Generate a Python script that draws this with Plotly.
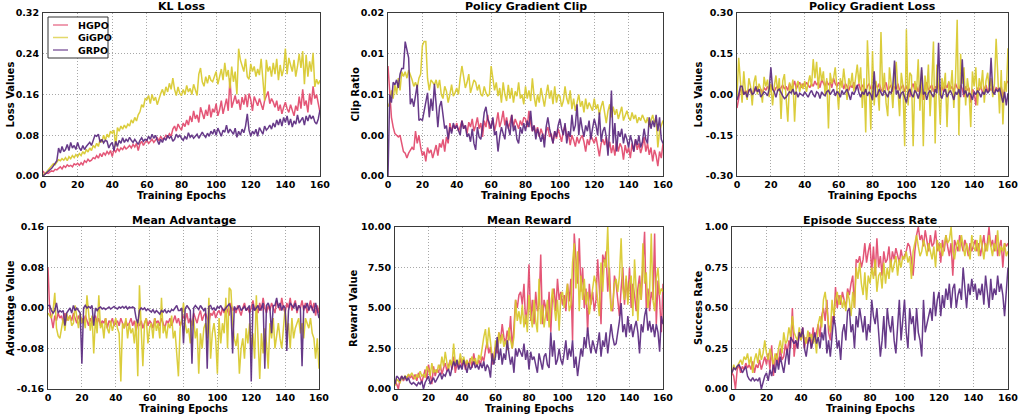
import numpy as np
import plotly.graph_objects as go

W, H = 1020, 416
epochs_max = 160
x_ticks = [0, 20, 40, 60, 80, 100, 120, 140, 160]
methods = ["HGPO", "GiGPO", "GRPO"]
colors = {"HGPO": "#e2486c", "GiGPO": "#d8c92c", "GRPO": "#5b2a80"}

# ---------------- KL Loss ----------------
kl_hgpo = [0.010, 0.004, 0.006, 0.005, 0.008, 0.010, 0.009, 0.013, 0.012, 0.016, 0.018, 0.014, 0.020, 0.017, 0.022, 0.019, 0.021, 0.018, 0.024, 0.022,
           0.025, 0.021, 0.026, 0.022, 0.030, 0.027, 0.033, 0.029, 0.031, 0.036, 0.034, 0.040, 0.035, 0.044, 0.038, 0.046, 0.041, 0.048, 0.043, 0.050,
           0.038, 0.052, 0.047, 0.054, 0.049, 0.055, 0.052, 0.058, 0.053, 0.056, 0.060, 0.055, 0.062, 0.057, 0.064, 0.050, 0.063, 0.068, 0.060, 0.066,
           0.070, 0.064, 0.068, 0.072, 0.066, 0.071, 0.075, 0.069, 0.078, 0.072, 0.074, 0.080, 0.076, 0.083, 0.078, 0.092, 0.098, 0.088, 0.102, 0.095,
           0.090, 0.104, 0.097, 0.110, 0.100, 0.118, 0.106, 0.128, 0.112, 0.120, 0.105, 0.135, 0.122, 0.112, 0.130, 0.118, 0.140, 0.115, 0.132, 0.125,
           0.142, 0.118, 0.130, 0.148, 0.122, 0.138, 0.152, 0.128, 0.192, 0.134, 0.148, 0.158, 0.142, 0.150, 0.130, 0.155, 0.140, 0.160, 0.135, 0.162,
           0.150, 0.128, 0.156, 0.145, 0.138, 0.152, 0.140, 0.130, 0.148, 0.158, 0.166, 0.142, 0.152, 0.145, 0.135, 0.148, 0.128, 0.140, 0.122, 0.135,
           0.145, 0.132, 0.125, 0.140, 0.130, 0.118, 0.138, 0.128, 0.156, 0.132, 0.170, 0.138, 0.148, 0.125, 0.162, 0.140, 0.176, 0.152, 0.160, 0.142,
           0.125]
kl_gigpo = [0.002, 0.004, 0.008, 0.012, 0.016, 0.020, 0.024, 0.022, 0.028, 0.032, 0.030, 0.034, 0.031, 0.036, 0.030, 0.038, 0.034, 0.040, 0.036, 0.042,
            0.038, 0.044, 0.040, 0.048, 0.043, 0.052, 0.047, 0.055, 0.050, 0.060, 0.056, 0.064, 0.058, 0.072, 0.066, 0.080, 0.070, 0.082, 0.076, 0.088,
            0.084, 0.090, 0.058, 0.095, 0.088, 0.098, 0.092, 0.100, 0.094, 0.102, 0.098, 0.110, 0.104, 0.115, 0.108, 0.120, 0.126, 0.140, 0.135, 0.152,
            0.150, 0.158, 0.142, 0.160, 0.148, 0.155, 0.140, 0.152, 0.162, 0.170, 0.158, 0.175, 0.165, 0.182, 0.170, 0.192, 0.170, 0.158, 0.175, 0.162,
            0.158, 0.170, 0.160, 0.178, 0.165, 0.172, 0.160, 0.180, 0.168, 0.158, 0.200, 0.212, 0.185, 0.176, 0.195, 0.182, 0.198, 0.188, 0.185, 0.195,
            0.205, 0.180, 0.198, 0.210, 0.188, 0.222, 0.195, 0.208, 0.172, 0.215, 0.185, 0.205, 0.160, 0.250, 0.228, 0.215, 0.205, 0.230, 0.195, 0.190,
            0.220, 0.205, 0.215, 0.195, 0.210, 0.198, 0.230, 0.190, 0.148, 0.228, 0.205, 0.215, 0.195, 0.222, 0.200, 0.230, 0.188, 0.218, 0.196, 0.210,
            0.250, 0.200, 0.232, 0.218, 0.205, 0.228, 0.195, 0.215, 0.240, 0.212, 0.245, 0.180, 0.238, 0.195, 0.225, 0.205, 0.242, 0.175, 0.190, 0.180,
            0.188]
kl_grpo = [0.000, 0.003, 0.006, 0.009, 0.012, 0.015, 0.020, 0.026, 0.030, 0.055, 0.045, 0.058, 0.048, 0.052, 0.062, 0.050, 0.066, 0.055, 0.060, 0.052,
           0.066, 0.055, 0.050, 0.060, 0.052, 0.058, 0.062, 0.066, 0.060, 0.072, 0.080, 0.078, 0.082, 0.066, 0.072, 0.065, 0.070, 0.068, 0.055, 0.062,
           0.066, 0.050, 0.068, 0.058, 0.070, 0.064, 0.075, 0.066, 0.072, 0.068, 0.076, 0.070, 0.066, 0.072, 0.068, 0.062, 0.070, 0.075, 0.068, 0.072,
           0.070, 0.078, 0.072, 0.082, 0.074, 0.080, 0.070, 0.062, 0.072, 0.066, 0.075, 0.070, 0.080, 0.074, 0.078, 0.068, 0.072, 0.082, 0.076, 0.080,
           0.074, 0.070, 0.078, 0.072, 0.085, 0.076, 0.080, 0.074, 0.078, 0.082, 0.074, 0.079, 0.086, 0.080, 0.076, 0.084, 0.078, 0.088, 0.082, 0.092,
           0.080, 0.094, 0.085, 0.078, 0.090, 0.086, 0.100, 0.084, 0.092, 0.086, 0.082, 0.094, 0.076, 0.088, 0.080, 0.092, 0.085, 0.098, 0.122, 0.090,
           0.078, 0.088, 0.082, 0.092, 0.078, 0.095, 0.088, 0.082, 0.098, 0.090, 0.094, 0.100, 0.092, 0.104, 0.096, 0.110, 0.100, 0.112, 0.098, 0.115,
           0.105, 0.118, 0.100, 0.112, 0.096, 0.108, 0.102, 0.120, 0.104, 0.110, 0.115, 0.100, 0.118, 0.108, 0.120, 0.112, 0.118, 0.106, 0.102, 0.112,
           0.130]

# ---------------- Policy Gradient Clip ----------------
clip_hgpo = [0.0135, 0.0095, 0.0072, 0.0060, 0.0052, 0.0050, 0.0048, 0.0050, 0.0040, 0.0030, 0.0028, 0.0022, 0.0028, 0.0032, 0.0035, 0.0032, 0.0055, 0.0040, 0.0050, 0.0035,
             0.0025, 0.0030, 0.0018, 0.0035, 0.0028, 0.0032, 0.0022, 0.0030, 0.0038, 0.0025, 0.0040, 0.0035, 0.0045, 0.0030, 0.0048, 0.0040, 0.0065, 0.0055, 0.0062, 0.0058,
             0.0065, 0.0055, 0.0060, 0.0068, 0.0058, 0.0062, 0.0052, 0.0066, 0.0060, 0.0070, 0.0055, 0.0062, 0.0072, 0.0058, 0.0065, 0.0048, 0.0068, 0.0060, 0.0075, 0.0058,
             0.0062, 0.0070, 0.0055, 0.0065, 0.0078, 0.0060, 0.0068, 0.0080, 0.0062, 0.0072, 0.0058, 0.0066, 0.0075, 0.0060, 0.0070, 0.0064, 0.0058, 0.0068, 0.0062, 0.0072,
             0.0070, 0.0060, 0.0080, 0.0065, 0.0055, 0.0062, 0.0052, 0.0060, 0.0048, 0.0058, 0.0050, 0.0044, 0.0055, 0.0060, 0.0048, 0.0052, 0.0040, 0.0055, 0.0046, 0.0058,
             0.0050, 0.0042, 0.0055, 0.0062, 0.0048, 0.0052, 0.0038, 0.0050, 0.0044, 0.0036, 0.0048, 0.0040, 0.0046, 0.0050, 0.0042, 0.0030, 0.0045, 0.0038, 0.0050, 0.0044,
             0.0040, 0.0048, 0.0035, 0.0024, 0.0040, 0.0045, 0.0038, 0.0048, 0.0032, 0.0042, 0.0028, 0.0038, 0.0025, 0.0042, 0.0030, 0.0040, 0.0035, 0.0020, 0.0038, 0.0028,
             0.0035, 0.0022, 0.0040, 0.0030, 0.0045, 0.0032, 0.0040, 0.0028, 0.0036, 0.0048, 0.0030, 0.0040, 0.0026, 0.0035, 0.0018, 0.0032, 0.0025, 0.0012, 0.0030, 0.0022,
             0.0040]
clip_gigpo = [0.0085, 0.0090, 0.0105, 0.0095, 0.0112, 0.0100, 0.0120, 0.0105, 0.0128, 0.0122, 0.0128, 0.0120, 0.0130, 0.0125, 0.0118, 0.0110, 0.0115, 0.0108, 0.0120, 0.0125,
              0.0160, 0.0165, 0.0165, 0.0120, 0.0105, 0.0118, 0.0115, 0.0112, 0.0118, 0.0108, 0.0118, 0.0100, 0.0095, 0.0110, 0.0104, 0.0090, 0.0100, 0.0112, 0.0098, 0.0102,
              0.0108, 0.0100, 0.0120, 0.0135, 0.0122, 0.0108, 0.0115, 0.0125, 0.0102, 0.0112, 0.0118, 0.0115, 0.0105, 0.0112, 0.0100, 0.0098, 0.0110, 0.0102, 0.0098, 0.0100,
              0.0135, 0.0120, 0.0105, 0.0115, 0.0098, 0.0108, 0.0090, 0.0115, 0.0100, 0.0092, 0.0112, 0.0095, 0.0108, 0.0090, 0.0104, 0.0098, 0.0115, 0.0095, 0.0100, 0.0088,
              0.0110, 0.0095, 0.0105, 0.0092, 0.0120, 0.0098, 0.0085, 0.0100, 0.0090, 0.0108, 0.0095, 0.0085, 0.0100, 0.0112, 0.0095, 0.0105, 0.0088, 0.0110, 0.0090, 0.0100,
              0.0098, 0.0085, 0.0092, 0.0110, 0.0095, 0.0088, 0.0105, 0.0082, 0.0095, 0.0080, 0.0090, 0.0100, 0.0085, 0.0092, 0.0078, 0.0095, 0.0082, 0.0090, 0.0085, 0.0080,
              0.0095, 0.0082, 0.0088, 0.0075, 0.0085, 0.0092, 0.0078, 0.0065, 0.0080, 0.0088, 0.0072, 0.0085, 0.0075, 0.0082, 0.0070, 0.0078, 0.0085, 0.0068, 0.0075, 0.0080,
              0.0072, 0.0068, 0.0078, 0.0070, 0.0075, 0.0065, 0.0072, 0.0068, 0.0075, 0.0070, 0.0065, 0.0072, 0.0060, 0.0068, 0.0075, 0.0065, 0.0070, 0.0035, 0.0055, 0.0062,
              0.0068]
clip_grpo = [0.0000, 0.0100, 0.0090, 0.0115, 0.0112, 0.0118, 0.0108, 0.0125, 0.0132, 0.0132, 0.0165, 0.0155, 0.0145, 0.0088, 0.0095, 0.0085, 0.0102, 0.0112, 0.0068, 0.0070,
             0.0068, 0.0080, 0.0090, 0.0102, 0.0072, 0.0095, 0.0080, 0.0113, 0.0088, 0.0060, 0.0085, 0.0092, 0.0075, 0.0058, 0.0062, 0.0045, 0.0060, 0.0052, 0.0065, 0.0058,
             0.0062, 0.0055, 0.0050, 0.0068, 0.0058, 0.0062, 0.0048, 0.0052, 0.0042, 0.0058, 0.0040, 0.0032, 0.0060, 0.0048, 0.0045, 0.0060, 0.0078, 0.0085, 0.0070, 0.0065,
             0.0058, 0.0072, 0.0050, 0.0055, 0.0030, 0.0048, 0.0060, 0.0052, 0.0045, 0.0068, 0.0058, 0.0050, 0.0075, 0.0055, 0.0062, 0.0045, 0.0040, 0.0060, 0.0052, 0.0065,
             0.0055, 0.0068, 0.0060, 0.0080, 0.0055, 0.0062, 0.0045, 0.0058, 0.0050, 0.0042, 0.0052, 0.0035, 0.0060, 0.0072, 0.0058, 0.0050, 0.0040, 0.0055, 0.0048, 0.0062,
             0.0070, 0.0058, 0.0050, 0.0065, 0.0040, 0.0055, 0.0048, 0.0075, 0.0055, 0.0062, 0.0088, 0.0050, 0.0072, 0.0058, 0.0048, 0.0062, 0.0055, 0.0068, 0.0045, 0.0058,
             0.0070, 0.0062, 0.0050, 0.0078, 0.0042, 0.0055, 0.0060, 0.0048, 0.0025, 0.0060, 0.0105, 0.0040, 0.0065, 0.0030, 0.0055, 0.0048, 0.0058, 0.0040, 0.0052, 0.0045,
             0.0035, 0.0050, 0.0042, 0.0030, 0.0045, 0.0038, 0.0050, 0.0035, 0.0042, 0.0058, 0.0045, 0.0040, 0.0072, 0.0058, 0.0068, 0.0060, 0.0075, 0.0055, 0.0072, 0.0045,
             0.0040]

# ---------------- Policy Gradient Loss ----------------
pg_hgpo = [-0.050, -0.010, 0.020, 0.010, 0.000, 0.015, 0.005, 0.020, 0.010, 0.000, 0.020, 0.015, 0.030, 0.010, 0.020, 0.005, 0.025, 0.015, 0.030, 0.020,
           0.035, 0.020, 0.010, 0.025, 0.030, 0.015, 0.025, 0.035, 0.020, 0.030, 0.015, 0.040, 0.025, 0.030, 0.050, 0.020, 0.035, 0.045, 0.025, 0.040,
           0.030, 0.045, 0.035, 0.025, 0.040, 0.030, 0.050, 0.035, 0.045, 0.025, 0.055, 0.040, 0.030, 0.050, 0.035, 0.045, 0.025, 0.060, 0.040, 0.030,
           0.045, 0.035, 0.050, 0.020, 0.040, 0.030, 0.015, 0.035, 0.025, 0.045, 0.020, 0.030, 0.040, 0.015, 0.035, 0.025, 0.010, 0.030, 0.040, 0.020,
           0.030, 0.015, 0.035, 0.025, 0.040, 0.020, 0.010, 0.030, 0.045, 0.015, 0.025, 0.035, 0.010, 0.030, 0.020, 0.040, 0.015, 0.025, 0.035, 0.010,
           0.030, 0.020, -0.010, 0.025, 0.040, 0.015, 0.030, 0.010, 0.035, 0.020, -0.020, 0.030, 0.045, 0.015, 0.025, 0.035, 0.010, 0.030, 0.020, 0.040,
           0.015, 0.030, 0.010, 0.035, 0.025, 0.045, 0.020, 0.030, 0.010, 0.040, 0.025, 0.015, 0.035, 0.020, -0.010, 0.030, 0.015, 0.025, -0.030, 0.020,
           0.010, -0.040, 0.025, 0.015, 0.030, 0.005, 0.020, 0.035, 0.010, 0.025, 0.015, 0.030, 0.005, 0.025, 0.020, 0.010, 0.030, -0.010, 0.020, 0.040,
           0.050]
pg_gigpo = [-0.010, 0.135, 0.050, -0.030, 0.085, 0.010, -0.020, 0.060, 0.030, -0.040, 0.045, 0.070, 0.000, 0.040, 0.020, -0.030, 0.065, 0.030, 0.055, -0.010,
            0.040, -0.040, 0.030, 0.070, 0.010, 0.060, -0.090, 0.050, 0.075, -0.020, -0.100, 0.045, 0.010, 0.055, -0.100, 0.030, 0.050, 0.010, 0.040, 0.020,
            0.050, 0.010, 0.040, 0.070, 0.030, 0.130, 0.060, 0.120, 0.020, 0.100, 0.050, 0.085, 0.000, 0.060, -0.125, 0.080, 0.040, 0.060, 0.100, 0.030,
            -0.055, 0.060, 0.025, 0.095, 0.040, -0.020, 0.060, 0.030, 0.080, 0.010, 0.060, 0.110, 0.040, 0.100, -0.050, 0.060, -0.140, 0.200, 0.050, -0.130,
            0.160, -0.040, 0.050, 0.020, -0.060, 0.230, 0.010, 0.080, -0.030, -0.080, 0.100, 0.040, -0.050, 0.060, 0.120, 0.020, -0.080, 0.080, 0.030, -0.190,
            0.240, -0.040, 0.080, 0.070, -0.190, 0.050, 0.010, 0.130, -0.060, 0.090, -0.190, 0.070, 0.000, 0.110, -0.080, 0.040, 0.195, -0.180, 0.110, 0.030,
            -0.110, 0.060, 0.020, 0.080, -0.120, 0.050, 0.010, 0.090, -0.050, 0.060, 0.275, -0.150, 0.150, 0.040, 0.100, -0.040, 0.060, 0.010, -0.120, 0.085,
            0.030, 0.100, -0.040, 0.060, 0.020, 0.090, -0.030, 0.050, 0.080, 0.010, 0.060, -0.010, 0.040, 0.205, 0.060, -0.070, 0.090, -0.110, 0.050, 0.010,
            0.170]
pg_grpo = [-0.020, 0.000, 0.030, 0.030, 0.000, 0.010, -0.010, 0.015, 0.020, 0.000, 0.005, 0.030, 0.010, 0.020, -0.010, 0.000, 0.010, 0.005, -0.005, 0.020,
           0.100, 0.020, 0.010, -0.010, 0.015, 0.020, 0.005, -0.005, -0.015, -0.010, 0.000, 0.010, 0.005, 0.020, 0.000, 0.010, -0.010, 0.005, 0.000, -0.005,
           0.010, 0.000, -0.010, 0.005, 0.015, 0.000, -0.010, 0.010, 0.005, -0.015, 0.010, 0.000, -0.005, 0.010, 0.015, 0.000, 0.010, 0.020, -0.005, 0.010,
           0.005, -0.010, 0.015, 0.000, 0.010, 0.020, 0.000, -0.020, 0.010, 0.000, 0.015, 0.035, 0.005, -0.010, 0.010, 0.000, 0.020, -0.005, 0.010, 0.000,
           -0.020, 0.085, -0.010, 0.000, 0.020, 0.010, -0.005, 0.015, 0.000, -0.010, 0.010, 0.005, 0.030, 0.125, 0.000, 0.015, -0.015, 0.005, 0.010, -0.010,
           -0.030, 0.005, 0.020, 0.000, -0.010, 0.015, 0.005, -0.015, 0.010, 0.100, 0.000, 0.010, -0.020, 0.005, 0.015, 0.000, -0.010, 0.020, 0.005, 0.190,
           0.000, -0.015, 0.010, 0.020, -0.010, 0.005, 0.015, 0.000, -0.020, 0.010, 0.000, 0.020, -0.010, 0.130, 0.000, 0.015, -0.010, 0.005, 0.000, -0.020,
           0.010, 0.000, 0.015, 0.005, -0.010, 0.010, 0.000, 0.020, 0.005, 0.015, 0.135, 0.010, 0.000, 0.020, 0.010, 0.025, 0.000, -0.030, 0.010, -0.040,
           0.005]

# ---------------- Mean Advantage ----------------
adv_hgpo = [0.080, -0.005, -0.020, -0.040, -0.015, -0.025, -0.010, -0.020, -0.015, -0.030, -0.010, -0.025, -0.020, -0.015, -0.025, -0.010, -0.020, -0.030, -0.015, -0.025,
            -0.020, -0.030, -0.015, -0.025, -0.035, -0.020, -0.030, -0.025, -0.015, -0.030, -0.020, -0.035, -0.025, -0.030, -0.020, -0.040, -0.025, -0.030, -0.020, -0.035,
            -0.030, -0.025, -0.035, -0.020, -0.030, -0.040, -0.025, -0.035, -0.030, -0.020, -0.035, -0.025, -0.045, -0.030, -0.035, -0.025, -0.040, -0.030, -0.020, -0.035,
            -0.025, -0.030, -0.040, -0.020, -0.030, -0.025, -0.035, -0.020, -0.030, -0.040, -0.025, -0.030, -0.020, -0.035, -0.025, -0.015, -0.030, -0.020, -0.035, -0.025,
            -0.015, -0.025, -0.010, -0.030, -0.020, -0.035, -0.010, -0.020, -0.030, -0.015, -0.005, -0.025, -0.015, -0.010, -0.020, -0.030, -0.010, -0.015, -0.005, -0.020,
            -0.010, -0.005, -0.015, 0.000, -0.010, 0.005, -0.005, -0.015, 0.010, -0.005, 0.000, -0.010, 0.005, -0.005, -0.015, 0.000, 0.010, -0.005, 0.000, -0.010,
            0.000, 0.015, -0.005, 0.005, -0.010, 0.010, -0.005, 0.020, 0.000, -0.010, 0.005, -0.005, 0.010, 0.000, -0.010, 0.015, 0.005, -0.005, 0.020, 0.000,
            -0.010, 0.010, 0.000, 0.020, -0.005, 0.005, 0.015, -0.010, 0.005, 0.000, 0.015, -0.005, 0.010, -0.010, 0.005, 0.015, -0.005, 0.010, -0.015, 0.005,
            -0.010]
adv_gigpo = [-0.010, -0.015, -0.020, -0.005, 0.030, -0.040, -0.055, -0.060, -0.035, -0.020, -0.045, -0.010, -0.025, -0.015, -0.035, -0.030, 0.005, -0.020, -0.040, -0.010,
             -0.030, -0.020, -0.040, 0.025, -0.020, -0.045, -0.015, -0.090, -0.020, -0.050, 0.025, -0.040, -0.030, -0.060, -0.020, -0.040, -0.050, -0.025, -0.045, -0.030,
             -0.020, -0.040, -0.050, -0.145, -0.030, -0.040, -0.020, -0.060, -0.030, -0.050, -0.040, -0.070, -0.025, -0.135, 0.045, -0.040, -0.115, -0.030, -0.020, -0.070,
             -0.040, -0.030, -0.060, -0.020, -0.045, -0.030, -0.060, 0.020, -0.050, -0.035, -0.060, -0.030, -0.040, -0.015, -0.060, -0.045, -0.090, -0.135, -0.040, -0.020,
             0.010, -0.030, -0.050, -0.040, -0.070, -0.030, -0.020, -0.060, -0.040, -0.130, -0.050, -0.080, -0.040, -0.030, -0.060, 0.020, -0.100, -0.050, -0.030, -0.060,
             -0.130, -0.020, -0.070, -0.030, -0.050, 0.020, -0.080, 0.040, 0.035, -0.030, -0.060, -0.075, -0.050, -0.130, -0.080, -0.060, -0.100, -0.040, -0.070, -0.030,
             -0.080, -0.050, -0.100, 0.025, -0.060, -0.140, -0.050, -0.090, -0.040, -0.070, -0.120, -0.030, -0.060, -0.020, -0.080, -0.050, -0.030, -0.060, -0.080, -0.040,
             0.000, -0.050, -0.030, -0.080, -0.020, -0.060, -0.040, -0.030, -0.020, -0.050, -0.030, -0.060, -0.020, -0.030, -0.040, -0.020, -0.050, -0.060, -0.100, -0.060,
             -0.120]
adv_grpo = [0.005, 0.005, -0.005, -0.010, -0.005, 0.010, -0.010, -0.005, -0.008, -0.005, -0.035, -0.010, -0.005, 0.000, -0.010, 0.005, -0.005, 0.000, -0.005, -0.010,
            -0.110, 0.000, 0.005, 0.000, 0.003, 0.000, 0.005, -0.035, 0.000, -0.005, 0.000, 0.002, -0.002, 0.000, -0.003, 0.000, 0.002, -0.002, 0.000, 0.003,
            0.000, -0.002, 0.002, 0.000, 0.003, 0.000, 0.003, -0.002, 0.002, 0.000, 0.002, 0.000, -0.020, -0.030, -0.005, 0.000, -0.003, 0.000, -0.005, -0.002,
            -0.005, -0.008, -0.003, -0.010, -0.005, -0.008, -0.012, -0.005, -0.008, -0.003, -0.010, -0.005, -0.008, -0.003, -0.005, 0.000, 0.005, -0.005, -0.005, 0.000,
            -0.070, -0.002, 0.005, 0.000, -0.005, -0.110, 0.000, 0.005, 0.000, -0.003, 0.005, 0.000, -0.005, 0.000, -0.120, 0.003, 0.005, -0.003, 0.000, -0.005,
            0.003, 0.000, 0.005, -0.002, -0.005, 0.000, 0.005, 0.008, 0.000, -0.090, 0.003, -0.003, 0.000, 0.005, -0.005, 0.000, 0.003, -0.005, 0.000, 0.005,
            -0.145, 0.008, -0.005, 0.000, 0.005, -0.005, 0.000, 0.010, -0.120, 0.005, 0.010, 0.000, -0.050, 0.005, 0.005, 0.020, 0.000, 0.010, -0.005, 0.005,
            0.000, -0.085, -0.005, 0.010, 0.005, 0.000, 0.010, -0.005, 0.005, 0.000, -0.115, 0.005, 0.000, 0.010, -0.005, 0.005, 0.000, -0.010, 0.010, -0.005,
            -0.020]

# ---------------- Mean Reward ----------------
rew_hgpo = [0.50, 0.30, 0.00, 0.60, 0.80, 0.50, 0.70, 0.60, 0.90, 0.70, 0.80, 0.60, 0.90, 0.50, 1.00, 0.70, 0.40, 0.80, 1.20, 0.60,
            1.50, 0.90, 0.30, 1.40, 0.80, 1.20, 1.00, 1.50, 0.90, 1.30, 1.60, 1.10, 1.40, 1.80, 1.20, 2.00, 1.00, 1.60, 1.30, 1.90,
            1.40, 1.80, 1.20, 1.70, 1.50, 1.90, 1.30, 2.20, 1.60, 1.40, 1.80, 1.50, 2.00, 1.70, 2.40, 2.90, 2.20, 2.60, 1.50, 2.10,
            2.60, 2.20, 3.50, 3.00, 4.00, 3.20, 2.80, 3.60, 3.00, 4.50, 2.50, 3.80, 5.50, 5.00, 5.80, 6.00, 5.20, 6.50, 4.00, 5.00,
            7.70, 4.20, 5.50, 4.00, 6.00, 4.80, 5.20, 8.30, 4.00, 5.50, 5.00, 4.20, 6.00, 3.50, 5.80, 6.20, 4.80, 6.80, 5.50, 6.00,
            5.20, 5.80, 4.80, 6.50, 5.40, 6.80, 3.00, 9.60, 7.80, 6.50, 9.30, 6.00, 7.50, 5.00, 6.20, 3.50, 6.50, 5.20, 6.00, 4.80,
            5.50, 8.00, 6.20, 4.00, 8.30, 7.80, 8.50, 6.00, 7.50, 5.00, 4.80, 7.00, 6.50, 5.50, 4.50, 6.20, 7.50, 5.20, 6.80, 5.50,
            7.50, 5.00, 6.50, 5.80, 4.80, 6.20, 7.00, 5.50, 8.00, 9.70, 5.00, 6.20, 4.80, 6.00, 5.50, 9.60, 4.00, 6.70, 5.50, 3.50,
            6.50]
rew_gigpo = [0.20, 0.60, 0.50, 0.40, 0.70, 0.60, 0.80, 0.70, 0.90, 0.80, 1.00, 0.80, 0.60, 0.90, 0.70, 1.10, 0.80, 0.90, 0.70, 1.40,
             1.20, 0.80, 1.60, 1.00, 1.20, 1.00, 1.50, 1.20, 2.00, 1.40, 2.30, 1.60, 1.20, 1.80, 1.40, 2.80, 1.60, 1.80, 1.50, 2.20,
             1.60, 2.00, 1.50, 1.80, 1.30, 1.70, 2.00, 1.60, 1.90, 1.40, 2.10, 1.80, 2.60, 3.20, 3.70, 2.50, 3.80, 2.80, 2.00, 1.60,
             3.00, 2.40, 3.50, 2.80, 3.40, 2.60, 3.00, 2.40, 3.80, 3.00, 2.50, 3.20, 5.50, 4.20, 4.80, 4.00, 5.20, 3.80, 4.60, 3.50,
             5.80, 4.50, 3.80, 5.50, 4.20, 3.50, 6.80, 4.00, 5.20, 3.80, 4.80, 5.50, 3.80, 5.00, 6.20, 5.20, 4.20, 5.50, 3.60, 5.80,
             6.00, 5.00, 5.80, 6.50, 4.80, 5.20, 7.80, 9.00, 6.20, 8.50, 4.80, 7.00, 5.50, 6.80, 5.20, 6.00, 4.60, 5.50, 6.20, 7.00,
             6.50, 5.50, 4.50, 7.80, 6.00, 8.00, 7.50, 10.00, 6.50, 4.80, 5.20, 6.50, 6.80, 6.00, 7.00, 9.30, 6.20, 5.50, 7.00, 5.20,
             6.50, 7.00, 4.50, 8.00, 5.80, 4.20, 6.50, 5.50, 9.00, 6.50, 7.20, 5.00, 6.00, 9.60, 5.50, 4.80, 6.80, 7.50, 5.80, 6.20,
             6.00]
rew_grpo = [0.30, 0.80, 0.70, 0.50, 0.80, 0.60, 0.80, 0.50, 0.70, 0.40, 0.30, 0.40, 0.30, 0.20, 0.40, 0.30, 0.50, 0.00, 0.40, 0.60,
            0.80, 0.30, 0.50, 0.70, 0.40, 0.60, 0.80, 1.00, 0.60, 0.90, 0.80, 1.10, 1.20, 0.80, 1.30, 1.70, 1.40, 1.80, 1.20, 1.50,
            1.20, 1.80, 1.40, 1.00, 1.60, 1.20, 1.40, 1.70, 1.30, 1.50, 1.20, 1.60, 1.30, 1.70, 1.10, 1.50, 1.30, 0.70, 2.20, 1.50,
            2.00, 3.20, 1.80, 2.50, 1.50, 2.20, 1.80, 3.00, 2.20, 1.50, 2.00, 1.00, 2.50, 2.00, 2.50, 2.20, 2.00, 2.80, 1.80, 2.40,
            1.20, 2.30, 1.80, 2.00, 1.50, 1.00, 2.20, 1.60, 1.20, 2.00, 2.20, 1.50, 1.30, 3.50, 2.00, 3.00, 1.50, 1.80, 2.50, 1.80,
            1.50, 2.20, 3.00, 1.80, 2.50, 2.00, 3.00, 1.30, 2.00, 0.80, 1.50, 2.50, 2.00, 3.20, 2.50, 3.80, 2.80, 2.20, 3.00, 2.50,
            2.20, 2.80, 3.50, 2.00, 3.00, 2.60, 3.50, 2.20, 3.00, 4.00, 3.20, 2.70, 2.80, 3.50, 4.20, 5.30, 3.50, 4.00, 3.20, 4.50,
            3.50, 4.00, 3.20, 3.80, 4.20, 3.50, 2.20, 4.00, 3.50, 4.50, 5.00, 3.60, 4.20, 3.50, 4.00, 3.20, 4.00, 3.50, 2.30, 4.50,
            4.00]

# ---------------- Episode Success Rate ----------------
succ_hgpo = [0.10, 0.08, 0.00, 0.12, 0.15, 0.10, 0.14, 0.12, 0.16, 0.13, 0.15, 0.12, 0.17, 0.10, 0.15, 0.13, 0.18, 0.12, 0.16, 0.20,
             0.15, 0.22, 0.12, 0.27, 0.08, 0.18, 0.22, 0.15, 0.25, 0.18, 0.20, 0.28, 0.22, 0.30, 0.25, 0.50, 0.20, 0.30, 0.25, 0.35,
             0.30, 0.38, 0.25, 0.32, 0.28, 0.35, 0.25, 0.38, 0.30, 0.35, 0.40, 0.32, 0.45, 0.50, 0.42, 0.55, 0.35, 0.30, 0.45, 0.40,
             0.63, 0.50, 0.58, 0.52, 0.60, 0.55, 0.50, 0.62, 0.58, 0.65, 0.70, 0.50, 0.80, 0.78, 0.82, 0.75, 0.80, 0.90, 0.78, 0.85,
             0.90, 0.72, 0.88, 0.70, 0.93, 0.75, 0.82, 0.70, 0.85, 0.78, 0.80, 0.88, 0.75, 0.85, 0.80, 0.87, 0.82, 0.78, 0.86, 0.80,
             0.82, 0.85, 0.90, 0.88, 0.80, 0.70, 0.85, 0.95, 1.00, 0.92, 0.95, 0.88, 0.98, 0.90, 0.85, 0.95, 0.88, 0.90, 0.98, 0.85,
             0.90, 0.78, 0.92, 0.85, 0.95, 0.88, 0.82, 0.90, 0.70, 0.92, 0.88, 0.85, 0.95, 0.90, 0.85, 0.92, 0.88, 0.82, 0.90, 0.85,
             0.88, 0.92, 0.85, 0.90, 0.82, 0.88, 0.95, 0.85, 0.90, 1.00, 0.88, 0.92, 0.85, 0.95, 0.82, 0.88, 0.92, 0.75, 0.90, 0.88,
             0.90]
succ_gigpo = [0.10, 0.15, 0.12, 0.14, 0.16, 0.18, 0.15, 0.20, 0.18, 0.22, 0.15, 0.20, 0.10, 0.18, 0.22, 0.16, 0.25, 0.18, 0.22, 0.30,
              0.22, 0.18, 0.25, 0.20, 0.15, 0.22, 0.18, 0.25, 0.30, 0.22, 0.35, 0.28, 0.30, 0.38, 0.32, 0.45, 0.35, 0.32, 0.30, 0.38,
              0.30, 0.35, 0.32, 0.28, 0.36, 0.30, 0.34, 0.28, 0.32, 0.22, 0.40, 0.45, 0.38, 0.55, 0.60, 0.50, 0.40, 0.35, 0.55, 0.45,
              0.55, 0.60, 0.52, 0.58, 0.50, 0.55, 0.48, 0.60, 0.55, 0.45, 0.60, 0.50, 0.75, 0.68, 0.78, 0.65, 0.58, 0.72, 0.55, 0.70,
              0.65, 0.75, 0.68, 0.80, 0.60, 0.70, 0.72, 0.62, 0.78, 0.65, 0.75, 0.68, 0.80, 0.72, 0.78, 0.82, 0.70, 0.80, 0.75, 0.82,
              0.80, 0.85, 0.78, 0.82, 0.68, 0.85, 0.90, 0.95, 0.88, 0.82, 0.85, 0.92, 0.88, 0.82, 0.90, 0.85, 0.80, 0.88, 0.75, 0.92,
              0.85, 0.90, 0.82, 0.88, 0.95, 0.90, 0.92, 1.00, 0.85, 0.80, 0.88, 0.92, 0.85, 0.95, 0.88, 0.82, 0.90, 0.85, 0.80, 0.95,
              0.88, 0.85, 0.92, 0.82, 0.95, 0.88, 0.80, 0.90, 0.85, 0.95, 0.88, 0.82, 0.90, 0.85, 0.98, 0.82, 0.88, 0.85, 0.90, 0.82,
              0.85]
succ_grpo = [0.10, 0.13, 0.12, 0.14, 0.15, 0.13, 0.10, 0.12, 0.14, 0.08, 0.06, 0.05, 0.07, 0.05, 0.06, 0.05, 0.07, 0.00, 0.05, 0.08,
             0.10, 0.05, 0.12, 0.08, 0.15, 0.10, 0.18, 0.12, 0.20, 0.15, 0.10, 0.18, 0.25, 0.15, 0.32, 0.30, 0.28, 0.30, 0.25, 0.35,
             0.32, 0.38, 0.25, 0.20, 0.28, 0.32, 0.25, 0.30, 0.35, 0.28, 0.32, 0.25, 0.35, 0.30, 0.40, 0.22, 0.30, 0.20, 0.35, 0.45,
             0.38, 0.25, 0.30, 0.18, 0.35, 0.40, 0.30, 0.48, 0.50, 0.35, 0.40, 0.25, 0.45, 0.38, 0.50, 0.42, 0.35, 0.45, 0.30, 0.40,
             0.35, 0.55, 0.45, 0.40, 0.50, 0.35, 0.20, 0.30, 0.45, 0.25, 0.50, 0.40, 0.35, 0.45, 0.30, 0.22, 0.40, 0.55, 0.30, 0.45,
             0.55, 0.35, 0.25, 0.50, 0.40, 0.45, 0.30, 0.50, 0.35, 0.30, 0.20, 0.55, 0.35, 0.40, 0.45, 0.50, 0.42, 0.60, 0.45, 0.55,
             0.60, 0.45, 0.58, 0.50, 0.62, 0.55, 0.65, 0.50, 0.62, 0.65, 0.50, 0.58, 0.62, 0.55, 0.75, 0.60, 0.50, 0.65, 0.58, 0.68,
             0.60, 0.65, 0.55, 0.62, 0.58, 0.65, 0.52, 0.70, 0.60, 0.50, 0.68, 0.55, 0.62, 0.58, 0.70, 0.60, 0.65, 0.58, 0.45, 0.62,
             0.75]

# ---------------- Panel definitions ----------------
panels = [
    dict(title="KL Loss", ylabel="Loss Values", data=[kl_hgpo, kl_gigpo, kl_grpo],
         yrange=[0, 0.32], tickvals=[0, 0.08, 0.16, 0.24, 0.32],
         ticktext=["0.00", "0.08", "0.16", "0.24", "0.32"]),
    dict(title="Policy Gradient Clip", ylabel="Clip Ratio", data=[clip_hgpo, clip_gigpo, clip_grpo],
         yrange=[0, 0.02], tickvals=[0, 0.005, 0.01, 0.015, 0.02],
         ticktext=["0.00", "0.00", "0.01", "0.01", "0.02"]),
    dict(title="Policy Gradient Loss", ylabel="Loss Values", data=[pg_hgpo, pg_gigpo, pg_grpo],
         yrange=[-0.3, 0.3], tickvals=[-0.3, -0.15, 0, 0.15, 0.3],
         ticktext=["-0.30", "-0.15", "0.00", "0.15", "0.30"]),
    dict(title="Mean Advantage", ylabel="Advantage Value", data=[adv_hgpo, adv_gigpo, adv_grpo],
         yrange=[-0.16, 0.16], tickvals=[-0.16, -0.08, 0, 0.08, 0.16],
         ticktext=["-0.16", "-0.08", "0.00", "0.08", "0.16"]),
    dict(title="Mean Reward", ylabel="Reward Value", data=[rew_hgpo, rew_gigpo, rew_grpo],
         yrange=[0, 10], tickvals=[0, 2.5, 5, 7.5, 10],
         ticktext=["0.00", "2.50", "5.00", "7.50", "10.00"]),
    dict(title="Episode Success Rate", ylabel="Success Rate", data=[succ_hgpo, succ_gigpo, succ_grpo],
         yrange=[0, 1], tickvals=[0, 0.25, 0.5, 0.75, 1.0],
         ticktext=["0.00", "0.25", "0.50", "0.75", "1.00"]),
]

# pixel layout of each plot area: (left, right, top, bottom), and y-label x center
boxes = [(43, 320, 13, 176), (388, 663, 13, 176), (737, 1008, 13, 176),
         (48, 319, 227, 389), (395, 663, 227, 389), (732, 1008, 227, 389)]
ylabel_x = [10, 355, 698, 10, 353, 698]

FONT = "DejaVu Sans"
fig = go.Figure()
annotations = []
shapes = []

for i, (p, box) in enumerate(zip(panels, boxes)):
    n = i + 1
    xa = "x" if n == 1 else f"x{n}"
    ya = "y" if n == 1 else f"y{n}"
    L, R, T, B = box
    for m, series in zip(methods, p["data"]):
        fig.add_trace(go.Scatter(
            x=list(range(len(series))), y=series, mode="lines",
            name=m, showlegend=False,
            line=dict(color=colors[m], width=1.5), opacity=0.92,
            xaxis=xa, yaxis=ya, hoverinfo="skip"))
    axis_common = dict(showgrid=True, gridcolor="#a8a8a8", griddash="1px,2px", gridwidth=1,
                       showline=True, linecolor="#3a3a3a", linewidth=1, mirror=True,
                       zeroline=False, ticks="", automargin=False,
                       tickfont=dict(family=FONT, size=9.5, color="#000", weight="bold"))
    fig.update_layout(**{
        ("xaxis" if n == 1 else f"xaxis{n}"): dict(
            domain=[L / W, R / W], range=[0, epochs_max], tickvals=x_ticks,
            anchor=ya, ticklabelstandoff=0, **axis_common),
        ("yaxis" if n == 1 else f"yaxis{n}"): dict(
            domain=[1 - B / H, 1 - T / H], range=p["yrange"], tickvals=p["tickvals"],
            ticktext=p["ticktext"], anchor=xa, ticklabelstandoff=1, **axis_common),
    })
    cx = (L + R) / 2 / W
    annotations.append(dict(text=p["title"], x=cx, y=1 - T / H, xref="paper", yref="paper",
                            xanchor="center", yanchor="bottom", yshift=-2, showarrow=False,
                            font=dict(family=FONT, size=11, color="#000", weight="bold")))
    annotations.append(dict(text="Training Epochs", x=cx, y=1 - B / H, xref="paper", yref="paper",
                            xanchor="center", yanchor="middle", yshift=-19, showarrow=False,
                            font=dict(family=FONT, size=10, color="#000", weight="bold")))
    annotations.append(dict(text=p["ylabel"], x=ylabel_x[i] / W, y=1 - (T + B) / 2 / H,
                            xref="paper", yref="paper", xanchor="center", yanchor="middle",
                            textangle=-90, showarrow=False,
                            font=dict(family=FONT, size=10, color="#000", weight="bold")))

# legend box (top-left of first panel), drawn in pixel-based paper coordinates
lg_left, lg_right, lg_top, lg_bottom = 48, 108, 17, 58
shapes.append(dict(type="rect", xref="paper", yref="paper",
                   x0=lg_left / W, x1=lg_right / W, y0=1 - lg_bottom / H, y1=1 - lg_top / H,
                   line=dict(color="#333", width=1), fillcolor="white", layer="above"))
for k, m in enumerate(methods):
    yy = 1 - (25 + 12.5 * k) / H
    shapes.append(dict(type="line", xref="paper", yref="paper",
                       x0=53 / W, x1=68 / W, y0=yy, y1=yy,
                       line=dict(color=colors[m], width=1.5), opacity=0.7, layer="above"))
    annotations.append(dict(text=m, x=76 / W, y=yy, xref="paper", yref="paper",
                            xanchor="left", yanchor="middle", showarrow=False,
                            font=dict(family=FONT, size=9.5, color="#000", weight="bold")))

fig.update_layout(
    width=W, height=H, margin=dict(l=0, r=0, t=0, b=0),
    paper_bgcolor="white", plot_bgcolor="white",
    annotations=annotations, shapes=shapes,
    showlegend=False,
)

fig.write_html("out.html", config={"displayModeBar": False},
               post_script="document.body.style.margin='0';document.body.style.overflow='hidden';")
